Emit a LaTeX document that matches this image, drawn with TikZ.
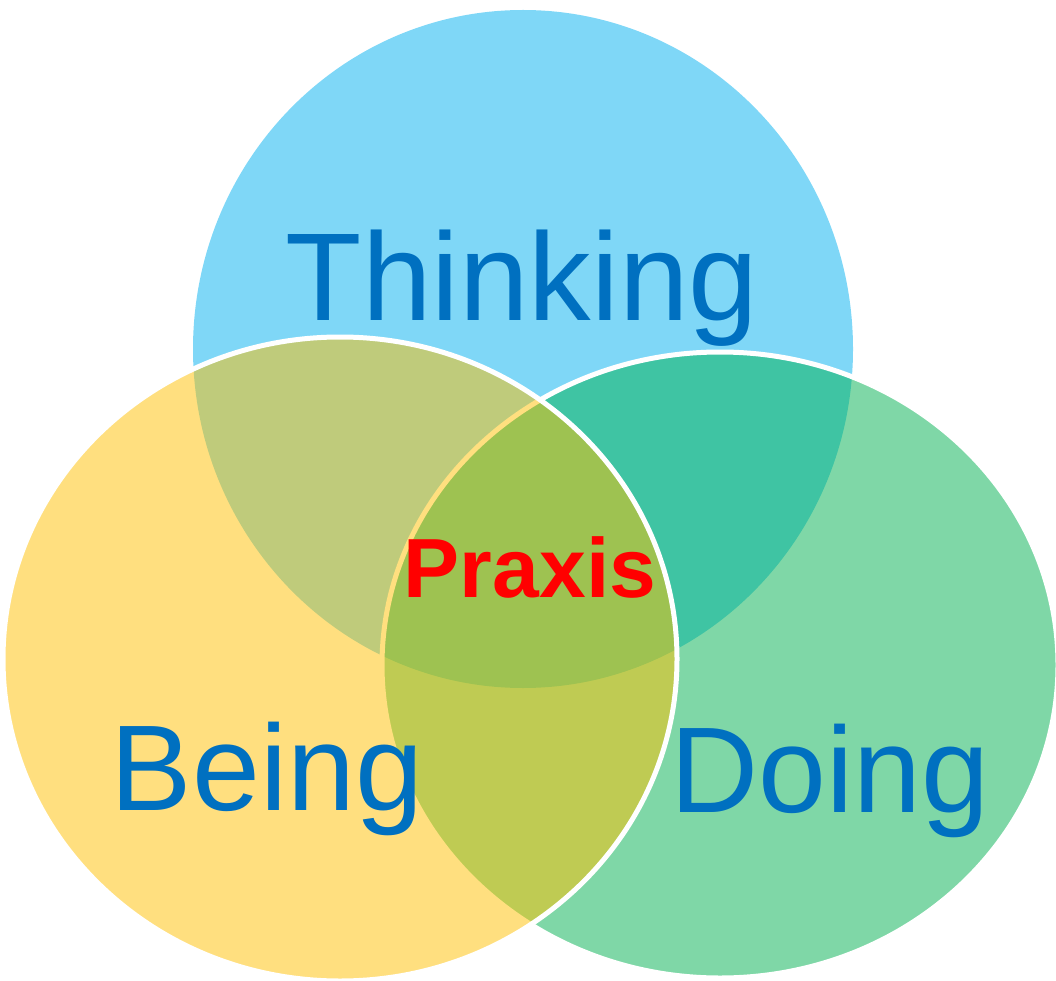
\documentclass[tikz,border=0pt]{standalone}
\usepackage{fontspec}
\setmainfont{Liberation Sans}
\usetikzlibrary{shapes.geometric}

\definecolor{thinkblue}{HTML}{00B0F0}
\definecolor{beingyellow}{HTML}{FFC000}
\definecolor{doinggreen}{HTML}{00B050}
\definecolor{labelblue}{HTML}{0070C0}

\begin{document}
\begin{tikzpicture}[x=1pt,y=-1pt,
  vennset/.style={ellipse,inner sep=0pt,outer sep=0pt,fill opacity=0.5},
  rim/.style={draw=white,line width=5pt},
  setlabel/.style={anchor=base,text=labelblue,font=\fontsize{122}{130}\selectfont}]

	\useasboundingbox (0,0) rectangle (1056,981);

	\node[vennset,fill=thinkblue,minimum width=660pt,minimum height=678pt] (thinking) at (523,349) {};
	\node[vennset,rim,fill=doinggreen,minimum width=676pt,minimum height=626pt] (doing) at (720,665) {};
	\node[vennset,rim,fill=beingyellow,minimum width=674pt,minimum height=644pt] (being) at (340,659) {};

	\node[setlabel,font=\fontsize{125}{130}\selectfont] (thinkinglabel) at (522,320) {Thinking};
	\node[setlabel] (beinglabel) at (267,810) {Being};
	\node[setlabel] (doinglabel) at (830,812) {Doing};
	\node[anchor=base,text=red,font=\bfseries\fontsize{84}{90}\selectfont] (praxis) at (530,597) {Praxis};

\end{tikzpicture}
\end{document}
